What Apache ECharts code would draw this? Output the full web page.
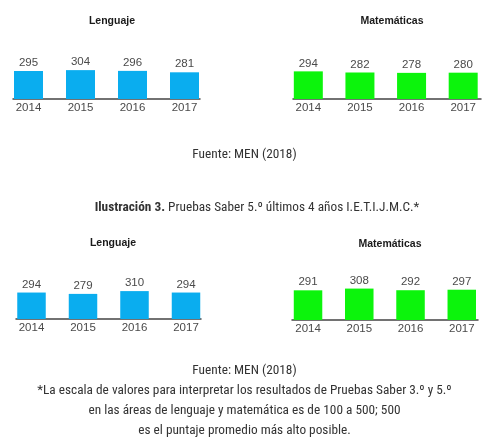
<!DOCTYPE html>
<html><head><meta charset="utf-8">
<script src="https://cdn.jsdelivr.net/npm/echarts@6/dist/echarts.min.js"></script>
<style>html,body{margin:0;padding:0;background:#fff}#c{width:489px;height:443px}</style>
</head><body><div id="c"></div>
<script>
const years = ['2014', '2015', '2016', '2017'];
const lenguaje3 = [295, 304, 296, 281];
const matematicas3 = [294, 282, 278, 280];
const lenguaje5 = [294, 279, 310, 294];
const matematicas5 = [291, 308, 292, 297];
const panelTitles = ['Lenguaje', 'Matemáticas', 'Lenguaje', 'Matemáticas'];
const fuente = 'Fuente: MEN (2018)';
const ilustracionBold = 'Ilustración 3.';
const ilustracionText = ' Pruebas Saber 5.º últimos 4 años I.E.T.I.J.M.C.*';
const notaLines = [
  '*La escala de valores para interpretar los resultados de Pruebas Saber 3.º y 5.º',
  'en las áreas de lenguaje y matemática es de 100 a 500; 500',
  'es el puntaje promedio más alto posible.'
];

const BLUE = '#0aadef', GREEN = '#0cf40c';
const panels = [
  {data: lenguaje3, color: BLUE, g: {left: 2.5, width: 208, top: 4, height: 95}, a: {left: 13, width: 187}, bw: 29, tx: 107, ty: 11},
  {data: matematicas3, color: GREEN, g: {left: 282.5, width: 208, top: 5, height: 94}, a: {left: 293, width: 188}, bw: 29, tx: 387, ty: 11},
  {data: lenguaje5, color: BLUE, g: {left: 5.75, width: 206, top: 229, height: 90}, a: {left: 16, width: 185}, bw: 28.5, tx: 108, ty: 233},
  {data: matematicas5, color: GREEN, g: {left: 282.4, width: 205, top: 218, height: 102}, a: {left: 292, width: 186}, bw: 28.5, tx: 385, ty: 234}
];

const FONT = '"Liberation Sans", Arial, sans-serif';
const NARROW = '"Liberation Sans Narrow", "Roboto Condensed", "Liberation Sans", sans-serif';

const grid = [], xAxis = [], yAxis = [], series = [], title = [];
panels.forEach((p, i) => {
  const gi = grid.length;
  grid.push({left: p.g.left, width: p.g.width, top: p.g.top, height: p.g.height, containLabel: false});
  grid.push({left: p.a.left, width: p.a.width, top: p.g.top, height: p.g.height, containLabel: false});
  xAxis.push({type: 'category', gridIndex: gi, data: years, boundaryGap: true,
    axisLine: {show: false}, axisTick: {show: false},
    axisLabel: {margin: 3, fontFamily: FONT, fontSize: 11.5, color: '#4a4a4a'}});
  xAxis.push({type: 'category', gridIndex: gi + 1, data: years,
    axisLine: {show: true, lineStyle: {color: '#444', width: 1.5}}, axisTick: {show: false}, axisLabel: {show: false}});
  yAxis.push({type: 'value', gridIndex: gi, min: 0, max: 1000, show: false});
  yAxis.push({type: 'value', gridIndex: gi + 1, min: 0, max: 1000, show: false});
  series.push({type: 'bar', xAxisIndex: gi, yAxisIndex: gi, data: p.data, barWidth: p.bw,
    itemStyle: {color: p.color},
    label: {show: true, position: 'top', distance: 2, fontFamily: FONT, fontSize: 11.5, color: '#4a4a4a'}});
  title.push({text: panelTitles[i], left: p.tx, top: p.ty, textAlign: 'center',
    textStyle: {fontFamily: FONT, fontSize: 10.5, fontWeight: 'bold', color: '#1a1a1a'}});
});

title.push({text: fuente, left: 'center', top: 143,
  textStyle: {fontFamily: NARROW, fontSize: 13.3, fontWeight: 'normal', color: '#333'}});
title.push({text: '{b|' + ilustracionBold + '}{r|' + ilustracionText + '}', left: 252, top: 196, textAlign: 'center',
  textStyle: {rich: {
    b: {fontFamily: NARROW, fontSize: 13.3, fontWeight: 'bold', color: '#333'},
    r: {fontFamily: NARROW, fontSize: 13.3, fontWeight: 'normal', color: '#333'}}}});
title.push({text: fuente + '\n' + notaLines.join('\n'), left: 'center', top: 356,
  textStyle: {fontFamily: NARROW, fontSize: 13.3, fontWeight: 'normal', color: '#333', lineHeight: 20, align: 'center'}});

const chart = echarts.init(document.getElementById('c'), null, {renderer: 'canvas'});
chart.setOption({animation: false, backgroundColor: '#fff', title, grid, xAxis, yAxis, series});
</script></body></html>
